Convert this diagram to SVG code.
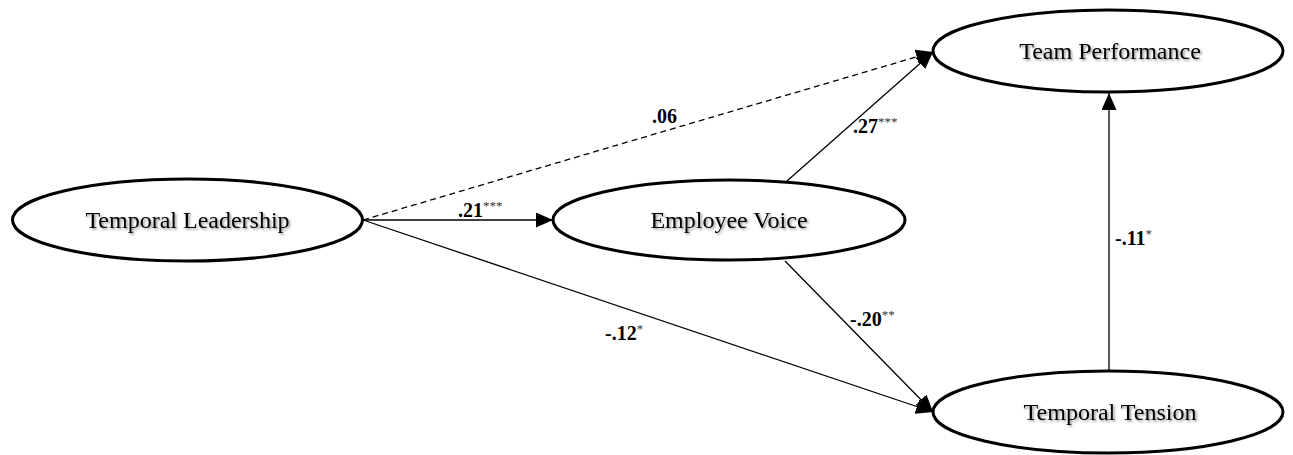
<svg xmlns="http://www.w3.org/2000/svg" width="1293" height="455" viewBox="0 0 1293 455">
  <style>
    .node ellipse { fill: #ffffff; stroke: #000000; stroke-width: 3; }
    .node text { font-family: "Liberation Serif", "Times New Roman", serif; font-size: 24px; fill: #000000; text-anchor: middle; filter: url(#soft); }
    .edge { stroke: #000000; stroke-width: 1.3; fill: none; }
    .dashed { stroke-dasharray: 6 4; }
    .coef { font-family: "Liberation Serif", "Times New Roman", serif; font-size: 20px; font-weight: bold; fill: #000000; }
    .sig { font-size: 13px; font-weight: normal; fill: #333333; }
  </style>
  <defs>
    <filter id="soft" x="-10%" y="-30%" width="120%" height="160%">
      <feDropShadow dx="1.5" dy="1.5" stdDeviation="1" flood-color="#000000" flood-opacity="0.45"/>
    </filter>
    <marker id="arrow" markerUnits="userSpaceOnUse" markerWidth="18" markerHeight="15" refX="17" refY="7.5" orient="auto">
      <path d="M0,0 L17,7.5 L0,15 z" fill="#000000"/>
    </marker>
  </defs>

  <!-- paths between constructs -->
  <g id="connectors">
    <line class="edge" x1="363" y1="220" x2="553" y2="220" marker-end="url(#arrow)"/>
    <line class="edge dashed" x1="363" y1="220" x2="933" y2="52" marker-end="url(#arrow)"/>
    <line class="edge" x1="787" y1="181" x2="933" y2="52" marker-end="url(#arrow)"/>
    <line class="edge" x1="363" y1="220" x2="933" y2="412" marker-end="url(#arrow)"/>
    <line class="edge" x1="785" y1="261" x2="933" y2="412" marker-end="url(#arrow)"/>
    <line class="edge" x1="1109" y1="371" x2="1109" y2="93" marker-end="url(#arrow)"/>
  </g>

  <!-- path coefficients -->
  <g id="coefficients">
    <text class="coef" x="652" y="123">.06</text>
    <text class="coef" x="458" y="217">.21<tspan class="sig" dy="-7">***</tspan></text>
    <text class="coef" x="853" y="133">.27<tspan class="sig" dy="-7">***</tspan></text>
    <text class="coef" x="605" y="340">-.12<tspan class="sig" dy="-7">*</tspan></text>
    <text class="coef" x="850" y="326">-.20<tspan class="sig" dy="-7">**</tspan></text>
    <text class="coef" x="1115" y="245">-.11<tspan class="sig" dy="-7">*</tspan></text>
  </g>

  <g id="temporal-leadership" class="node">
    <ellipse cx="187.5" cy="220" rx="175" ry="41"/>
    <text x="187.5" y="228">Temporal Leadership</text>
  </g>
  <g id="employee-voice" class="node">
    <ellipse cx="729" cy="220" rx="176" ry="40"/>
    <text x="729" y="228">Employee Voice</text>
  </g>
  <g id="team-performance" class="node">
    <ellipse cx="1108" cy="51" rx="175" ry="41"/>
    <text x="1110" y="59">Team Performance</text>
  </g>
  <g id="temporal-tension" class="node">
    <ellipse cx="1108" cy="412" rx="175" ry="41"/>
    <text x="1110" y="420">Temporal Tension</text>
  </g>
</svg>
